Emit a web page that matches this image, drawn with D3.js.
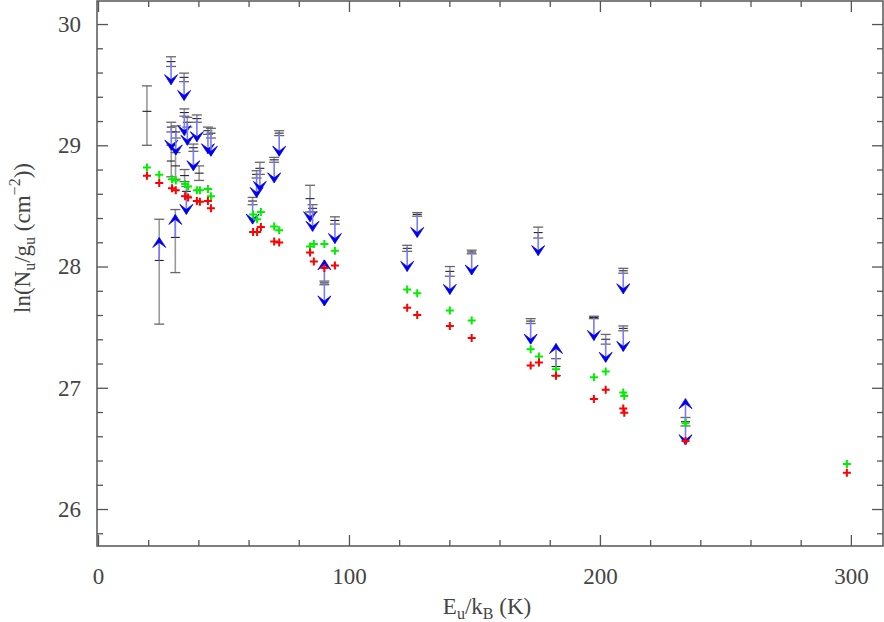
<!DOCTYPE html>
<html><head><meta charset="utf-8">
<script src="https://cdn.jsdelivr.net/npm/d3@7"></script>
<style>body{margin:0;background:#fff}svg{display:block}</style>
</head><body>
<svg id="chart" width="884" height="622"></svg>
<script>
// ---------------- data ----------------
// model points (two model series at the same energies)
const modelE     = [19.5,24.4,29.5,31.0,34.7,35.9,39.4,40.6,43.8,45.0,61.8,63.4,64.9,70.2,72.2,84.5,86.0,90.2,94.4,123.2,127.2,140.2,148.9,172.4,175.7,182.5,197.6,202.3,209.3,209.7,234.1,298.4];
const greenModel = [28.817,28.757,28.72,28.71,28.68,28.66,28.63,28.63,28.64,28.58,28.43,28.39,28.45,28.33,28.30,28.165,28.185,28.185,28.13,27.81,27.78,27.637,27.555,27.318,27.258,27.153,27.087,27.134,26.96,26.933,26.708,26.372];
const redModel   = [28.748,28.688,28.645,28.63,28.58,28.57,28.54,28.535,28.54,28.48,28.284,28.284,28.325,28.206,28.198,28.115,28.041,27.987,28.009,27.66,27.60,27.51,27.41,27.183,27.208,27.10,26.908,26.983,26.83,26.795,26.562,26.30];

// detections with error bars
const detE  = [19.5, 29.2, 30.9, 34.5, 40.3];
const detV  = [29.28, 28.87, 28.83, 28.75, 28.77];
const detLo = [29.0, 28.74, 28.72, 28.70, 28.71];
const detHi = [29.49, 29.0, 28.94, 28.80, 28.83];

// upper limits (value, small error)
const ulE   = [29.1,34.3,34.4,35.6,39.4,38.0,43.8,45.0,29.2,31.0,35.2,61.6,63.2,64.5,70.2,72.2,84.5,85.5,94.4,123.2,127.2,140.2,148.9,175.4,172.4,197.6,202.3,209.3,209.3];
const ulV   = [29.69,29.56,29.27,29.19,29.22,28.98,29.12,29.10,29.15,29.11,28.62,28.54,28.76,28.81,28.88,29.10,28.56,28.48,28.38,28.15,28.43,27.96,28.12,28.28,27.55,27.58,27.40,27.965,27.49];
const ulErr = [0.04,0.035,0.03,0.04,0.03,0.03,0.03,0.04,0.04,0.05,0.04,0.03,0.03,0.05,0.02,0.02,0.11,0.03,0.03,0.025,0.015,0.04,0.015,0.045,0.02,0.01,0.04,0.02,0.02];

// lower limits (value with error bar)
const llE  = [24.4, 30.8, 182.5];
const llV  = [28.05, 28.24, 27.175];
const llLo = [27.525, 27.95, 27.10];
const llHi = [28.39, 28.47, 27.24];

// two-sided limits
const tsE   = [90.2, 234.1];
const tsV   = [27.865, 26.72];
const tsErr = [0.015, 0.035];

const xMajor = [0, 100, 200, 300];
const yMajor = [26, 27, 28, 29, 30];

// ---------------- layout ----------------
const L = 97, R = 883, T = 1, B = 546;
const x = d3.scaleLinear().domain([-0.4, 312.8]).range([L, R]);
const y = d3.scaleLinear().domain([25.695, 30.19]).range([B, T]);
const ARROW = 0.19;

const svg = d3.select("#chart");
const axisCol = "#555";

// ---------------- axes (box with inward ticks) ----------------
const xMinor = d3.range(0, 313, 20).filter(v => v % 100 !== 0);
const yMinor = d3.range(25.8, 30.19, 0.2).map(v => +v.toFixed(1)).filter(v => Math.abs(v - Math.round(v)) > 1e-6);

function styleAxis(g) {
  g.select(".domain").remove();
  g.selectAll(".tick line").attr("stroke", axisCol).attr("stroke-width", 1.3);
}
const bigTick = 11, smallTick = 6;
const font = "'Liberation Serif', 'DejaVu Serif', serif";

// bottom
svg.append("g").attr("transform", `translate(0,${B})`)
  .call(d3.axisBottom(x).tickValues(xMajor).tickSize(-bigTick).tickPadding(22).tickFormat(d3.format("d")))
  .call(styleAxis)
  .call(g => g.selectAll("text").attr("font-family", font).attr("font-size", 23).attr("fill", "#444"));
svg.append("g").attr("transform", `translate(0,${B})`)
  .call(d3.axisBottom(x).tickValues(xMinor).tickSize(-smallTick).tickFormat(""))
  .call(styleAxis);
// top
svg.append("g").attr("transform", `translate(0,${T})`)
  .call(d3.axisTop(x).tickValues(xMajor).tickSize(-bigTick).tickFormat(""))
  .call(styleAxis);
svg.append("g").attr("transform", `translate(0,${T})`)
  .call(d3.axisTop(x).tickValues(xMinor).tickSize(-smallTick).tickFormat(""))
  .call(styleAxis);
// left
svg.append("g").attr("transform", `translate(${L},0)`)
  .call(d3.axisLeft(y).tickValues(yMajor).tickSize(-bigTick).tickPadding(16).tickFormat(d3.format("d")))
  .call(styleAxis)
  .call(g => g.selectAll("text").attr("font-family", font).attr("font-size", 23).attr("fill", "#444"));
svg.append("g").attr("transform", `translate(${L},0)`)
  .call(d3.axisLeft(y).tickValues(yMinor).tickSize(-smallTick).tickFormat(""))
  .call(styleAxis);
// right
svg.append("g").attr("transform", `translate(${R},0)`)
  .call(d3.axisRight(y).tickValues(yMajor).tickSize(-bigTick).tickFormat(""))
  .call(styleAxis);
svg.append("g").attr("transform", `translate(${R},0)`)
  .call(d3.axisRight(y).tickValues(yMinor).tickSize(-smallTick).tickFormat(""))
  .call(styleAxis);

svg.append("rect").attr("x", L).attr("y", T).attr("width", R - L).attr("height", B - T)
  .attr("fill", "none").attr("stroke", axisCol).attr("stroke-width", 1.5);

// ---------------- axis titles ----------------
const xt = svg.append("text").attr("x", 487).attr("y", 614).attr("text-anchor", "middle")
  .attr("font-family", font).attr("font-size", 23).attr("fill", "#444");
xt.append("tspan").text("E");
xt.append("tspan").text("u").attr("font-size", 16).attr("dy", 5);
xt.append("tspan").text("/k").attr("dy", -5);
xt.append("tspan").text("B").attr("font-size", 16).attr("dy", 5);
xt.append("tspan").text(" (K)").attr("dy", -5);

const yt = svg.append("text").attr("transform", "translate(30,238) rotate(-90)").attr("text-anchor", "middle")
  .attr("font-family", font).attr("font-size", 23).attr("fill", "#444");
yt.append("tspan").text("ln(N");
yt.append("tspan").text("u").attr("font-size", 16).attr("dy", 5);
yt.append("tspan").text("/g").attr("dy", -5);
yt.append("tspan").text("u").attr("font-size", 16).attr("dy", 5);
yt.append("tspan").text(" (cm").attr("dy", -5);
yt.append("tspan").text("\u22122").attr("font-size", 16).attr("dy", -10);
yt.append("tspan").text("))").attr("dy", 10);

// ---------------- marks ----------------
const plot = svg.append("g");
const barCol = "#9a9a9a", capCol = "#666", ctrCol = "#222";
const lineBlue = "#7a7aff", headBlue = "#0000ee";

function errbar(g, E, v, lo, hi) {
  const cx = x(E);
  g.append("line").attr("x1", cx).attr("x2", cx).attr("y1", y(hi)).attr("y2", y(lo))
    .attr("stroke", barCol).attr("stroke-width", 1.6);
  [hi, lo].forEach(c => g.append("line").attr("x1", cx - 5).attr("x2", cx + 5).attr("y1", y(c)).attr("y2", y(c))
    .attr("stroke", capCol).attr("stroke-width", 1.3));
  g.append("line").attr("x1", cx - 4.5).attr("x2", cx + 4.5).attr("y1", y(v)).attr("y2", y(v))
    .attr("stroke", ctrCol).attr("stroke-width", 1.1);
}
function arrow(g, E, v, dir) { // dir -1 down, +1 up
  const cx = x(E), y0 = y(v), y1 = y(v + dir * ARROW);
  g.append("line").attr("x1", cx).attr("x2", cx).attr("y1", y0).attr("y2", y1)
    .attr("stroke", lineBlue).attr("stroke-width", 1.6);
  const s = dir < 0 ? 1 : -1; // tip direction in pixels
  g.append("path")
    .attr("d", `M${cx},${y1} L${cx - 6.5},${y1 - s * 10} L${cx},${y1 - s * 5} L${cx + 6.5},${y1 - s * 10} Z`)
    .attr("fill", headBlue).attr("stroke", headBlue).attr("stroke-width", 0.8).attr("stroke-linejoin", "round");
}

detE.forEach((E, i) => errbar(plot, E, detV[i], detLo[i], detHi[i]));
ulE.forEach((E, i) => { errbar(plot, E, ulV[i], ulV[i] - ulErr[i], ulV[i] + ulErr[i]); });
llE.forEach((E, i) => errbar(plot, E, llV[i], llLo[i], llHi[i]));
tsE.forEach((E, i) => errbar(plot, E, tsV[i], tsV[i] - tsErr[i], tsV[i] + tsErr[i]));

ulE.forEach((E, i) => arrow(plot, E, ulV[i], -1));
llE.forEach((E, i) => arrow(plot, E, llV[i], 1));
tsE.forEach((E, i) => { arrow(plot, E, tsV[i], 1); arrow(plot, E, tsV[i], -1); });

function plus(g, data, col) {
  g.selectAll(null).data(data).enter().append("path")
    .attr("d", d => `M${x(d[0]) - 4},${y(d[1])} h8 M${x(d[0])},${y(d[1]) - 4} v8`)
    .attr("stroke", col).attr("stroke-width", 2).attr("fill", "none");
}
plus(plot, modelE.map((E, i) => [E, greenModel[i]]), "#00ee00");
plus(plot, modelE.map((E, i) => [E, redModel[i]]), "#ff0000");
</script>
</body></html>
